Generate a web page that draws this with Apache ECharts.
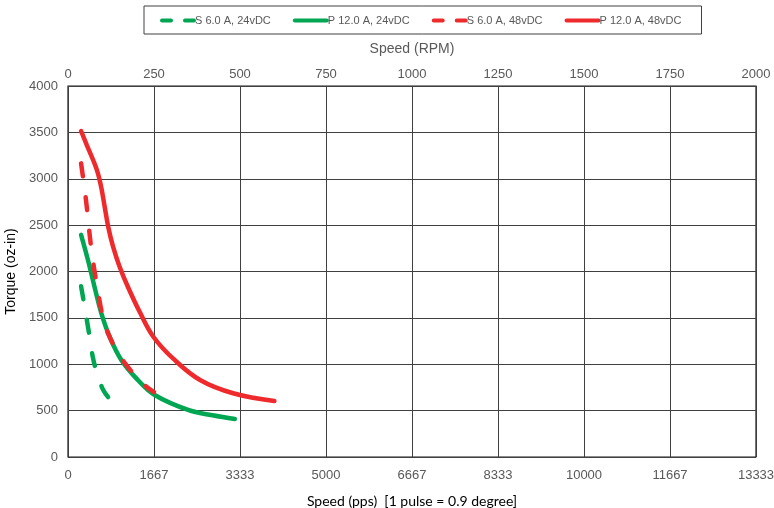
<!DOCTYPE html>
<html>
<head>
<meta charset="utf-8">
<script src="https://cdn.jsdelivr.net/npm/echarts@6/dist/echarts.min.js"></script>
<style>html,body{margin:0;padding:0;background:#fff}#c{width:774px;height:508px}</style>
</head>
<body>
<div id="c"></div>
<script>
// Speed in RPM (top axis), torque in oz-in
const seriesNames = ['S 6.0 A, 24vDC', 'P 12.0 A, 24vDC', 'S 6.0 A, 48vDC', 'P 12.0 A, 48vDC'];
const s6_24_rpm = [38, 47, 56, 64, 72, 82, 92, 102, 118, 136];
const s6_24_tq  = [1840, 1650, 1450, 1270, 1080, 930, 820, 725, 640, 585];
const p12_24_rpm = [38, 58, 77, 97, 121, 155, 203, 252, 349, 420, 485];
const p12_24_tq  = [2395, 2124, 1836, 1549, 1297, 1046, 830, 668, 507, 450, 410];
const s6_48_rpm = [38, 52, 67, 84, 105, 128, 156, 190, 224, 250];
const s6_48_tq  = [3166, 2780, 2270, 1850, 1459, 1240, 1060, 900, 770, 700];
const p12_48_rpm = [38, 55, 73, 87, 97, 107, 117, 131, 150, 174, 209, 248, 306, 384, 480, 600];
const p12_48_tq  = [3515, 3360, 3202, 3059, 2900, 2690, 2480, 2268, 2052, 1836, 1560, 1297, 1060, 830, 687, 604];
const rpmTicks = [0, 250, 500, 750, 1000, 1250, 1500, 1750, 2000];
const ppsMax = 40000 / 3; // 13333 pps = 2000 RPM at 400 pulses/rev
const torqueMax = 4000;

const green = '#00a651';
const red = '#ee2a2d';
const grey = '#595959';
const dash = [13, 21];
const legendDash = [9, 14];
const labelFont = 'Liberation Sans Narrow, Liberation Sans';

function zip(a, b) { return a.map((v, i) => [v, b[i]]); }
const plain = v => String(Math.round(v));

const chart = echarts.init(document.getElementById('c'));
function mk(name, rpm, tq, color, dashed) {
  return {
    name: name, type: 'line', xAxisIndex: 1, yAxisIndex: 0,
    data: zip(rpm, tq), smooth: 0.4, symbol: 'none', showSymbol: false,
    lineStyle: { color: color, width: 4.5, type: dashed ? dash : 'solid', cap: 'round' },
    itemStyle: { color: color }, z: dashed ? 3 : 2
  };
}
chart.setOption({
  animation: false,
  backgroundColor: '#fff',
  legend: {
    top: 6, left: 144, width: 550,
    padding: [9, 20, 8, 16],
    borderColor: '#404040', borderWidth: 1,
    itemWidth: 32, itemHeight: 6, itemGap: 22,
    itemStyle: { opacity: 0 },
    textStyle: { color: grey, fontSize: 11, fontFamily: 'Liberation Sans', padding: [0, 0, 0, -4] },
    data: [
      { name: seriesNames[0], lineStyle: { type: legendDash, width: 4 } },
      { name: seriesNames[1], lineStyle: { width: 4 } },
      { name: seriesNames[2], lineStyle: { type: legendDash, width: 4 } },
      { name: seriesNames[3], lineStyle: { width: 4 } }
    ]
  },
  grid: { left: 68, right: 18, top: 86, bottom: 51, containLabel: false, outerBoundsMode: 'none',
    show: true, borderColor: '#1a1a1a', borderWidth: 1.2 },
  xAxis: [
    {
      type: 'value', position: 'bottom', min: 0, max: ppsMax, interval: ppsMax / 8,
      name: 'Speed (pps)  [1 pulse = 0.9 degree]', nameLocation: 'middle', nameGap: 37,
      nameTextStyle: { color: '#000', fontSize: 14, fontFamily: 'Lato' },
      axisLine: { show: false }, axisTick: { show: false },
      axisLabel: { color: grey, fontSize: 13, fontFamily: labelFont, margin: 12, formatter: plain },
      splitLine: { show: true, lineStyle: { color: '#404040', width: 1 } }
    },
    {
      type: 'value', position: 'top', min: 0, max: rpmTicks[rpmTicks.length - 1], interval: 250,
      name: 'Speed (RPM)', nameLocation: 'middle', nameGap: 30,
      nameTextStyle: { color: grey, fontSize: 14, fontFamily: labelFont },
      axisLine: { show: false }, axisTick: { show: false },
      axisLabel: { color: grey, fontSize: 13, fontFamily: labelFont, margin: 5, formatter: plain },
      splitLine: { show: false }
    }
  ],
  yAxis: {
    type: 'value', min: 0, max: torqueMax, interval: 500,
    name: 'Torque (oz-in)', nameLocation: 'middle', nameGap: 32,
    nameTextStyle: { color: '#000', fontSize: 14, fontFamily: 'Liberation Sans' },
    axisLine: { show: false }, axisTick: { show: false },
    axisLabel: { color: grey, fontSize: 13, fontFamily: labelFont, margin: 10, formatter: plain },
    splitLine: { show: true, lineStyle: { color: '#404040', width: 1 } }
  },
  series: [
    mk(seriesNames[0], s6_24_rpm, s6_24_tq, green, true),
    mk(seriesNames[1], p12_24_rpm, p12_24_tq, green, false),
    mk(seriesNames[2], s6_48_rpm, s6_48_tq, red, true),
    mk(seriesNames[3], p12_48_rpm, p12_48_tq, red, false)
  ]
});
</script>
</body>
</html>
